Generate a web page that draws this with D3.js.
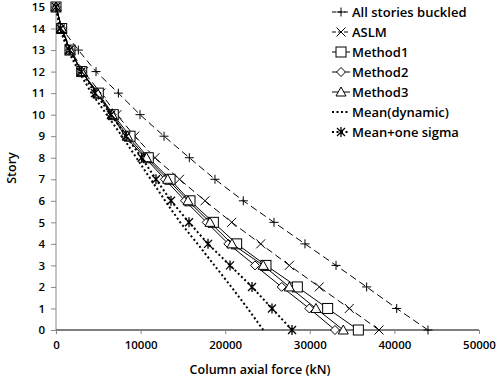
<!DOCTYPE html>
<meta charset="utf-8">
<head>
  <title>Story vs column axial force</title>
</head>
<style>
body { margin: 0; background: #fff; }
text { font-family: "Open Sans", "Noto Sans", "DejaVu Sans", sans-serif; font-weight: 600; fill: #000; }
</style>
<body>
<svg width="500" height="383"></svg>
<script src="https://cdnjs.cloudflare.com/ajax/libs/d3/7.8.5/d3.min.js"></script>
<script>

// stories 0..15
var stories = d3.range(0, 16);
var xTicks = [0, 10000, 20000, 30000, 40000, 50000];
var yTicks = d3.range(0, 16);

// column axial force (kN) per story
var allBuckled = [43970, 40270, 36720, 33100, 29430, 25770, 22140, 18790, 15760, 12770, 9930, 7370, 4730, 2640, 700, 0];
var aslm       = [38180, 34670, 31120, 27580, 24200, 20770, 17610, 14600, 11700, 9300, 7200, 5300, 3250, 1750, 700, 0];
var method1    = [35740, 32110, 28530, 24820, 21350, 18600, 15840, 13480, 10910, 8750, 6770, 5000, 3040, 1650, 670, 0];
var method2    = [32980, 29940, 26680, 23520, 20370, 17810, 15250, 12880, 10520, 8160, 6580, 4810, 3040, 1650, 670, 0];
var method3    = [33960, 30730, 27580, 24500, 20800, 18200, 15600, 13200, 10700, 8450, 6650, 4900, 3040, 1650, 670, 0];
var meanDyn    = [24500, 22660, 20730, 18730, 16730, 14680, 12900, 11200, 9500, 7800, 6000, 4200, 2700, 1400, 450, 0];
var meanSigma  = [27900, 25530, 23170, 20570, 17970, 15720, 13590, 11820, 10120, 8300, 6500, 4600, 3000, 1600, 550, 0];

var seriesNames = ["All stories buckled", "ASLM", "Method1", "Method2", "Method3", "Mean(dynamic)", "Mean+one sigma"];
var seriesValues = [allBuckled, aslm, method1, method2, method3, meanDyn, meanSigma];
var seriesMarks = ["plus", "cross", "square", "diamond", "triangle", "none", "star"];
var seriesDash = ["7,4", "7,4", null, null, null, "2,2.5", "2,2.5"];

var svg = d3.select("svg");
var margin = {left: 56, right: 21, top: 7, bottom: 53};

var x = d3.scaleLinear().domain([0, 50000]).range([margin.left, 500 - margin.right]);
var y = d3.scaleLinear().domain([0, 15]).range([383 - margin.bottom, margin.top]);

// y axis (grey line, ticks on the left)
var yAxis = svg.append("g")
    .attr("transform", "translate(" + margin.left + ",0)")
    .call(d3.axisLeft(y).tickValues(yTicks).tickSize(5).tickPadding(6).tickFormat(d3.format("d")));
yAxis.select(".domain").attr("stroke", "#888").attr("d", "M0," + y(0) + "V" + y(15));
yAxis.selectAll(".tick line").attr("stroke", "#888");
yAxis.selectAll("text").style("font-size", "11.5px").attr("fill", "#000");

// x axis at story 0
var xAxis = svg.append("g")
    .attr("transform", "translate(0," + y(0) + ")")
    .call(d3.axisBottom(x).tickValues(xTicks).tickSize(4).tickPadding(7).tickFormat(d3.format("d")));
xAxis.select(".domain").attr("stroke", "#000").attr("d", "M" + x(0) + ",0H" + x(50000));
xAxis.selectAll(".tick line").attr("stroke", "#888");
xAxis.selectAll("text").style("font-size", "11.5px").attr("fill", "#000");

svg.append("text")
    .attr("x", 260).attr("y", 374)
    .attr("text-anchor", "middle")
    .style("font-size", "12.5px")
    .text("Column axial force (kN)");

svg.append("text")
    .attr("transform", "translate(16,168) rotate(-90)")
    .attr("text-anchor", "middle")
    .style("font-size", "12.5px")
    .text("Story");

function drawMark(g, kind, cx, cy) {
    var s = 4.5;
    if (kind == "plus") {
        g.append("path").attr("d", "M" + (cx - s) + "," + cy + "H" + (cx + s) + "M" + cx + "," + (cy - s) + "V" + (cy + s))
            .attr("stroke", "#000").attr("fill", "none");
    } else if (kind == "cross") {
        g.append("path").attr("d", "M" + (cx - s) + "," + (cy - s) + "L" + (cx + s) + "," + (cy + s) + "M" + (cx - s) + "," + (cy + s) + "L" + (cx + s) + "," + (cy - s))
            .attr("stroke", "#000").attr("fill", "none");
    } else if (kind == "star") {
        var r = 4;
        g.append("path").attr("d", "M" + (cx - r) + "," + (cy - r) + "L" + (cx + r) + "," + (cy + r) + "M" + (cx - r) + "," + (cy + r) + "L" + (cx + r) + "," + (cy - r) + "M" + cx + "," + (cy - 5) + "V" + (cy + 5))
            .attr("stroke", "#000").attr("stroke-width", 1.3).attr("fill", "none");
    } else if (kind == "square") {
        g.append("rect").attr("x", cx - 5).attr("y", cy - 5).attr("width", 10).attr("height", 10)
            .attr("stroke", "#000").attr("fill", "#fff");
    } else if (kind == "diamond") {
        g.append("path").attr("d", "M" + cx + "," + (cy - 4.5) + "L" + (cx + 4.5) + "," + cy + "L" + cx + "," + (cy + 4.5) + "L" + (cx - 4.5) + "," + cy + "Z")
            .attr("stroke", "#000").attr("fill", "#fff");
    } else if (kind == "triangle") {
        g.append("path").attr("d", "M" + cx + "," + (cy - 5) + "L" + (cx + 5) + "," + (cy + 4) + "L" + (cx - 5) + "," + (cy + 4) + "Z")
            .attr("stroke", "#000").attr("fill", "#fff");
    }
}

var line = d3.line()
    .x(function(d) { return x(d[0]); })
    .y(function(d) { return y(d[1]); });

seriesValues.forEach(function(vals, i) {
    var pts = vals.map(function(v, k) { return [v, stories[k]]; });
    var g = svg.append("g");
    g.append("path")
        .attr("d", line(pts))
        .attr("fill", "none")
        .attr("stroke", "#000")
        .attr("stroke-width", seriesDash[i] && seriesDash[i].indexOf("2,") == 0 ? 2 : 1)
        .attr("stroke-dasharray", seriesDash[i]);
    pts.forEach(function(p) { drawMark(g, seriesMarks[i], x(p[0]), y(p[1])); });
});

// legend
var legend = svg.append("g");
seriesNames.forEach(function(name, i) {
    var ly = 12 + i * 20;
    var g = legend.append("g");
    g.append("line")
        .attr("x1", 332).attr("x2", 350).attr("y1", ly).attr("y2", ly)
        .attr("stroke", "#000")
        .attr("stroke-width", seriesDash[i] && seriesDash[i].indexOf("2,") == 0 ? 2 : 1)
        .attr("stroke-dasharray", seriesDash[i] ? (seriesDash[i].indexOf("2,") == 0 ? "2,2.5" : "4,2") : null);
    drawMark(g, seriesMarks[i], 341, ly);
    g.append("text")
        .attr("x", 352).attr("y", ly + 4.5)
        .style("font-size", "13px")
        .text(name);
});

</script>
</body>
</html>
